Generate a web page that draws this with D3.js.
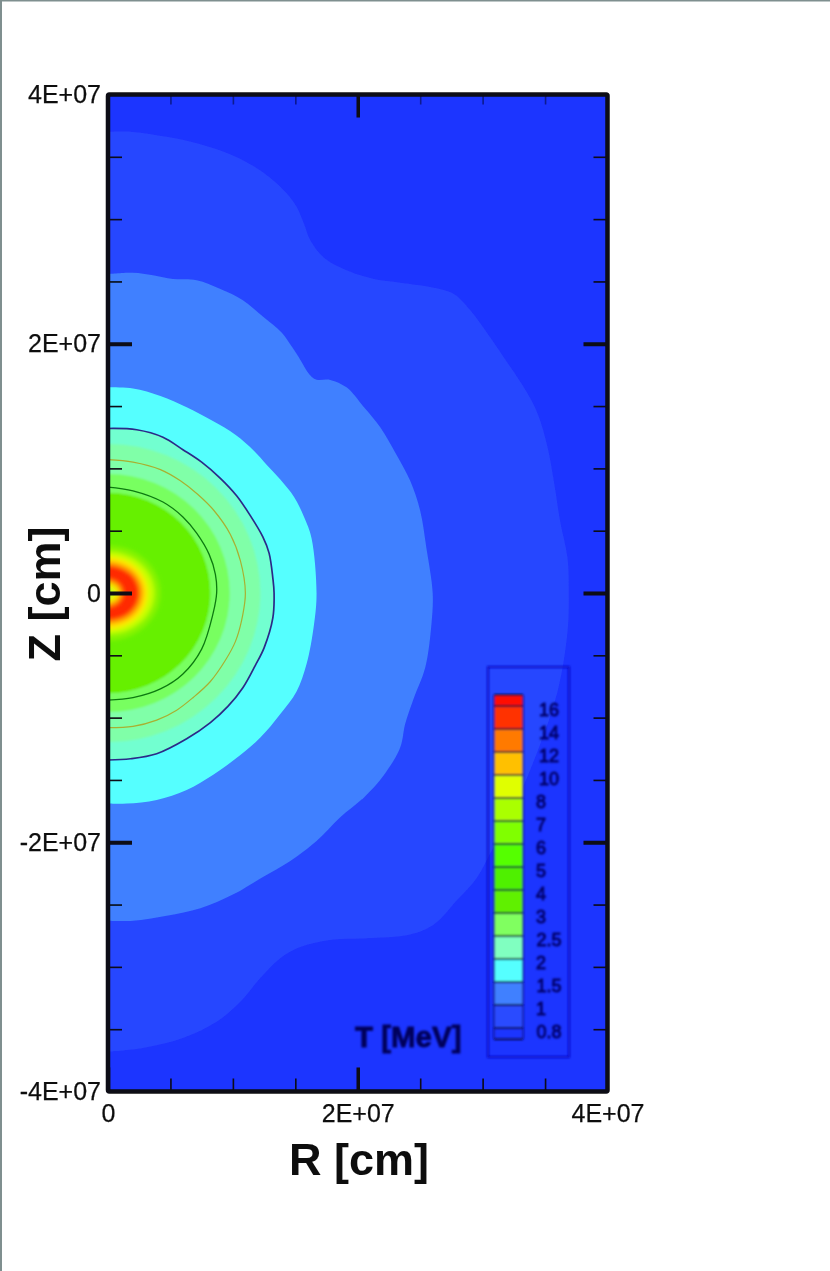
<!DOCTYPE html>
<html><head><meta charset="utf-8">
<script src="https://cdn.jsdelivr.net/npm/d3@7/dist/d3.min.js"></script>
<style>html,body{margin:0;padding:0;background:#fff}svg{display:block}</style>
</head><body><svg id="c" width="830" height="1271"></svg>
<script>
// Values are in units of 1e7 cm: [R, Z]
const contour08 = [[0,3.70],[.20,3.70],[.47,3.66],[.74,3.60],[1.00,3.51],[1.22,3.39],[1.41,3.23],[1.51,3.10],[1.57,2.96],[1.62,2.83],[1.73,2.69],[1.91,2.59],[2.13,2.52],[2.34,2.49],[2.61,2.45],[2.77,2.40],[2.90,2.27],[3.04,2.08],[3.17,1.89],[3.33,1.65],[3.44,1.44],[3.52,1.17],[3.57,.90],[3.62,.58],[3.68,.28],[3.69,0],[3.68,-.31],[3.60,-.79],[3.44,-1.27],[3.25,-1.72],[3.04,-2.13],[2.95,-2.29],[2.79,-2.47],[2.61,-2.66],[2.42,-2.74],[2.07,-2.77],[1.81,-2.78],[1.54,-2.84],[1.38,-2.93],[1.22,-3.09],[1.06,-3.28],[.87,-3.44],[.60,-3.57],[.28,-3.65],[0,-3.68]];
const contour10 = [[0,2.56],[.20,2.57],[.36,2.55],[.52,2.52],[.71,2.51],[.90,2.44],[1.08,2.35],[1.25,2.21],[1.39,2.09],[1.51,1.92],[1.65,1.72],[1.78,1.71],[1.91,1.65],[2.05,1.49],[2.18,1.33],[2.31,1.11],[2.42,.90],[2.50,.66],[2.55,.36],[2.60,0],[2.59,-.25],[2.54,-.60],[2.45,-.84],[2.38,-1.05],[2.34,-1.24],[2.21,-1.46],[2.05,-1.64],[1.86,-1.80],[1.67,-1.99],[1.46,-2.15],[1.22,-2.29],[1.00,-2.42],[.74,-2.53],[.47,-2.59],[.20,-2.63],[0,-2.63]];
const contour15 = [[0,1.65],[.20,1.64],[.42,1.58],[.63,1.49],[.84,1.38],[1.02,1.27],[1.17,1.14],[1.27,1.03],[1.38,.91],[1.49,.77],[1.57,.61],[1.63,.44],[1.67,0],[1.65,-.25],[1.59,-.57],[1.51,-.79],[1.38,-.97],[1.22,-1.16],[1.06,-1.30],[.84,-1.46],[.63,-1.58],[.39,-1.66],[.15,-1.69],[0,-1.69]];
const contour20 = [[0,1.32],[.23,1.31],[.44,1.25],[.60,1.15],[.75,1.05],[.90,.92],[1.03,.78],[1.14,.62],[1.24,.45],[1.29,.32],[1.32,.12],[1.33,0],[1.32,-.20],[1.25,-.44],[1.18,-.58],[1.08,-.76],[.96,-.91],[.82,-1.04],[.63,-1.17],[.39,-1.29],[.18,-1.33],[0,-1.34]];
const contour30 = [[0,1.07],[.20,1.05],[.42,.99],[.58,.90],[.72,.79],[.85,.66],[.98,.47],[1.06,.26],[1.10,0],[1.07,-.22],[1.02,-.39],[.94,-.54],[.82,-.71],[.68,-.84],[.55,-.94],[.39,-1.02],[.20,-1.07],[0,-1.08]];
const contour50 = [[0,.85],[.20,.82],[.44,.73],[.60,.61],[.71,.48],[.81,.31],[.86,.15],[.87,0],[.84,-.17],[.75,-.45],[.60,-.65],[.42,-.77],[.20,-.84],[0,-.86]];

const bandR = [1.22, 0.975, 0.82];
const bandColors = ["#80ffa8", "#78ff60", "#66f000"];
const coreR = [.42,.37,.32,.285,.25,.12,.09,.05];
const coreZ = [.38,.33,.29,.255,.22,.11,.08,.04];
const coreColors = ["#88f400","#c8ff00","#ffe800","#ffa000","#ff2a00","#ff9000","#f0f000","#b8ff20"];

const levels = ["16","14","12","10","8","7","6","5","4","3","2.5","2","1.5","1","0.8"];
const levelColors = ["#ff0800","#ff3000","#ff7a00","#ffc000","#e0ff00","#aaff00","#80ff00","#55ff00","#50f000","#60f000","#80ff60","#80ffc0","#55ffff","#3f80ff","#2a4bff","#1e36ff"];
const majorTicksX = [0,2,4];
const majorTicksY = [-4,-2,0,2,4];
const minorTicksX = [.5,1,1.5,2.5,3,3.5];
const minorTicksY = [-3.5,-3,-2.5,-1.5,-1,-.5,.5,1,1.5,2.5,3,3.5];
const tickLabel = d => d === 0 ? "0" : `${d}E+07`;

const svg = d3.select("#c");
const defs = svg.append("defs");
[["soft",0.7],["softer",1.0],["band",1.1],["core",2.2]].forEach(([id,s])=>{
  defs.append("filter").attr("id",id).attr("filterUnits","userSpaceOnUse")
    .attr("x",0).attr("y",0).attr("width",830).attr("height",1271)
    .append("feGaussianBlur").attr("stdDeviation",s);
});

const L=108,R=607.5,T=94.5,B=1091.5;
const x = d3.scaleLinear().domain([0,4]).range([L,R]);
const y = d3.scaleLinear().domain([-4,4]).range([B,T]);
defs.append("clipPath").attr("id","plot").append("rect").attr("x",L).attr("y",T).attr("width",R-L).attr("height",B-T);

// page edge
svg.append("rect").attr("x",0).attr("y",0).attr("width",830).attr("height",1.5).attr("fill","#7f8f8f");
svg.append("rect").attr("x",0).attr("y",0).attr("width",2).attr("height",1271).attr("fill","#7f8f8f");

const root = svg.append("g").attr("filter","url(#soft)");
const plot = root.append("g").attr("clip-path","url(#plot)");
plot.append("rect").attr("x",L).attr("y",T).attr("width",R-L).attr("height",B-T).attr("fill","#1e34ff");

const line = d3.line().x(d=>x(d[0])).y(d=>y(d[1])).curve(d3.curveCatmullRom.alpha(0.5));
const fills = [[contour08,"#2846ff"],[contour10,"#3f80ff"],[contour15,"#55ffff"],[contour20,"#72ffd0"]];
plot.selectAll("path.f").data(fills).join("path").attr("class","f")
  .attr("d",d=>line(d[0])+"Z").attr("fill",d=>d[1]);
plot.append("g").attr("filter","url(#band)").selectAll("ellipse").data(bandR).join("ellipse")
  .attr("cx",x(0)).attr("cy",y(0))
  .attr("rx",d=>x(d)-x(0)).attr("ry",d=>y(0)-y(d*.98))
  .attr("fill",(d,i)=>bandColors[i]);
plot.append("g").attr("filter","url(#core)").selectAll("ellipse").data(coreR).join("ellipse")
  .attr("cx",x(0)).attr("cy",y(0))
  .attr("rx",d=>x(d)-x(0)).attr("ry",(d,i)=>y(0)-y(coreZ[i]))
  .attr("fill",(d,i)=>coreColors[i]);
const lines = [[contour20,"#2c2a88",1.7],[contour30,"#a8b030",1.2],[contour50,"#0c7a10",1.3]];
plot.selectAll("path.l").data(lines).join("path").attr("class","l")
  .attr("d",d=>line(d[0])).attr("fill","none").attr("stroke",d=>d[1]).attr("stroke-width",d=>d[2]);

// axes
const dark="#0a0a14", fs=25;
function axis(gen,vals,size,width,labels,tx,ty,color,pad){
  const g = root.append("g").attr("transform",`translate(${tx},${ty})`)
    .call(gen.tickValues(vals).tickSizeInner(size).tickSizeOuter(0).tickPadding(pad||7).tickFormat(labels?tickLabel:()=>""));
  g.select(".domain").remove();
  g.selectAll("line").attr("stroke",color||dark).attr("stroke-width",width)
    .attr("display",d=>Math.abs(d)===4?"none":null);
  g.selectAll("text").attr("font-family","'Liberation Sans',Arial,sans-serif").attr("font-size",fs).attr("fill","#111")
    .attr("stroke","#111").attr("stroke-width",0.25);
  return g;
}
axis(d3.axisLeft(y),minorTicksY,-14,1.6,false,L,0);
axis(d3.axisRight(y),minorTicksY,-14,1.6,false,R,0);
axis(d3.axisBottom(x),minorTicksX,-12,1.6,false,0,B-1);
axis(d3.axisTop(x),minorTicksX,-10,1.6,false,0,T,"#0b1a90");
axis(d3.axisLeft(y),majorTicksY,-24,4,true,L,0);
axis(d3.axisRight(y),majorTicksY.slice(1,-1),-24,4,false,R,0);
axis(d3.axisBottom(x),majorTicksX,-23,3.5,true,0,B-1,null,14);
axis(d3.axisTop(x),[2],-23,3.5,false,0,T);
root.append("rect").attr("x",L).attr("y",T).attr("width",R-L).attr("height",B-T)
  .attr("rx",1.5).attr("fill","none").attr("stroke",dark).attr("stroke-width",4.5);

// axis titles
root.append("text").text("R [cm]").attr("x",359).attr("y",1175).attr("text-anchor","middle")
  .attr("font-family","'Liberation Sans',Arial,sans-serif").attr("font-weight","bold").attr("font-size",45).attr("fill","#111");
root.append("text").text("Z [cm]").attr("transform","translate(60,594) rotate(-90)").attr("text-anchor","middle")
  .attr("font-family","'Liberation Sans',Arial,sans-serif").attr("font-weight","bold").attr("font-size",45).attr("fill","#111");

// legend
const lg = svg.append("g").attr("filter","url(#softer)");
lg.append("rect").attr("x",488).attr("y",667).attr("width",81).attr("height",390).attr("fill","none").attr("stroke","#0a0ac8").attr("stroke-width",2);
const ly = d3.scalePoint().domain(levels).range([706,1028]);
const edges = [ly(levels[0])-11,...levels.map(d=>ly(d)),ly(levels[levels.length-1])+11];
lg.selectAll("rect.cell").data(levelColors).join("rect").attr("class","cell")
  .attr("x",494).attr("width",29).attr("y",(d,i)=>edges[i]).attr("height",(d,i)=>edges[i+1]-edges[i]).attr("fill",d=>d);
lg.selectAll("line.e").data(edges).join("line").attr("class","e")
  .attr("x1",494).attr("x2",523).attr("y1",d=>d).attr("y2",d=>d)
  .attr("stroke","#0a0a30").attr("stroke-width",1.9);
lg.selectAll("line.s").data([494,523]).join("line").attr("class","s")
  .attr("x1",d=>d).attr("x2",d=>d).attr("y1",edges[0]).attr("y2",edges[edges.length-1])
  .attr("stroke","#14148a").attr("stroke-width",1.4);
lg.selectAll("text.v").data(levels).join("text").attr("class","v")
  .text(d=>d)
  .attr("x",d=>d.length>1?549:541).attr("y",d=>ly(d)+10).attr("text-anchor","middle")
  .attr("font-family","'Liberation Sans',Arial,sans-serif").attr("font-size",18).attr("fill","#05056a")
  .attr("stroke","#05056a").attr("stroke-width",0.9);
lg.append("text").text("T [MeV]").attr("x",355).attr("y",1047)
  .attr("font-family","'Liberation Sans',Arial,sans-serif").attr("font-weight","bold").attr("font-size",29.5).attr("fill","#05055a")
  .attr("stroke","#05055a").attr("stroke-width",0.8);
</script></body></html>
